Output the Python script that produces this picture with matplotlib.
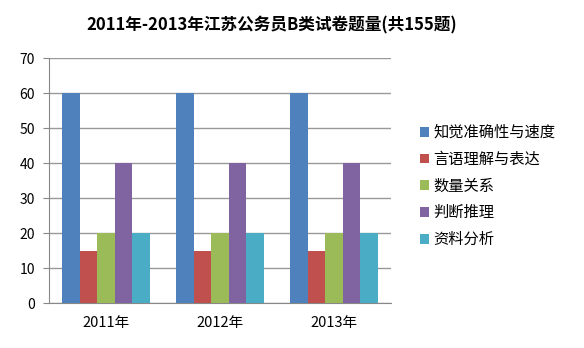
import matplotlib
matplotlib.use("Agg")
import matplotlib.pyplot as plt
import numpy as np

plt.rcParams['font.family'] = ['Noto Sans CJK SC', 'DejaVu Sans']

title = "2011年-2013年江苏公务员B类试卷题量(共155题)"
categories = ["2011年", "2012年", "2013年"]
series_names = ["知觉准确性与速度", "言语理解与表达", "数量关系", "判断推理", "资料分析"]
vals_perception = [60, 60, 60]
vals_verbal = [15, 15, 15]
vals_quant = [20, 20, 20]
vals_reasoning = [40, 40, 40]
vals_data = [20, 20, 20]
series_values = [vals_perception, vals_verbal, vals_quant, vals_reasoning, vals_data]
colors = ["#4F81BD", "#C0504D", "#9BBB59", "#8064A2", "#4BACC6"]
yticks = [0, 10, 20, 30, 40, 50, 60, 70]

fig = plt.figure(figsize=(5.84, 3.48), dpi=100)
ax = fig.add_axes([0.0839, 0.1293, 0.5856, 0.7040])

n = len(series_names)
x = np.arange(len(categories))
bw = 1.0 / (n + 1.5)
for i, (name, vals, c) in enumerate(zip(series_names, series_values, colors)):
    ax.bar(x + (i - (n - 1) / 2) * bw, vals, width=bw, color=c, label=name, zorder=3)

ax.set_xlim(-0.5, len(categories) - 0.5)
ax.set_ylim(0, 70)
ax.set_yticks(yticks)
ax.set_xticks(x)
ax.set_xticklabels(categories, fontsize=10.5)
ax.tick_params(axis='y', labelsize=10, length=4, color='#888888', pad=6)
ax.tick_params(axis='x', length=0, pad=9)
ax.grid(axis='y', color='#999999', linewidth=1, zorder=0)
for s in ['top', 'right']:
    ax.spines[s].set_visible(False)
for s in ['left', 'bottom']:
    ax.spines[s].set_color('#888888')

fig.text(0.466, 0.928, title, fontsize=12, fontweight='bold', ha='center', va='center')

leg = fig.legend(loc='upper left', bbox_to_anchor=(0.695, 0.683), frameon=False,
                 fontsize=11, handlelength=0.6, handleheight=0.6,
                 labelspacing=0.64, handletextpad=0.3)

fig.savefig("out.png", dpi=100)
